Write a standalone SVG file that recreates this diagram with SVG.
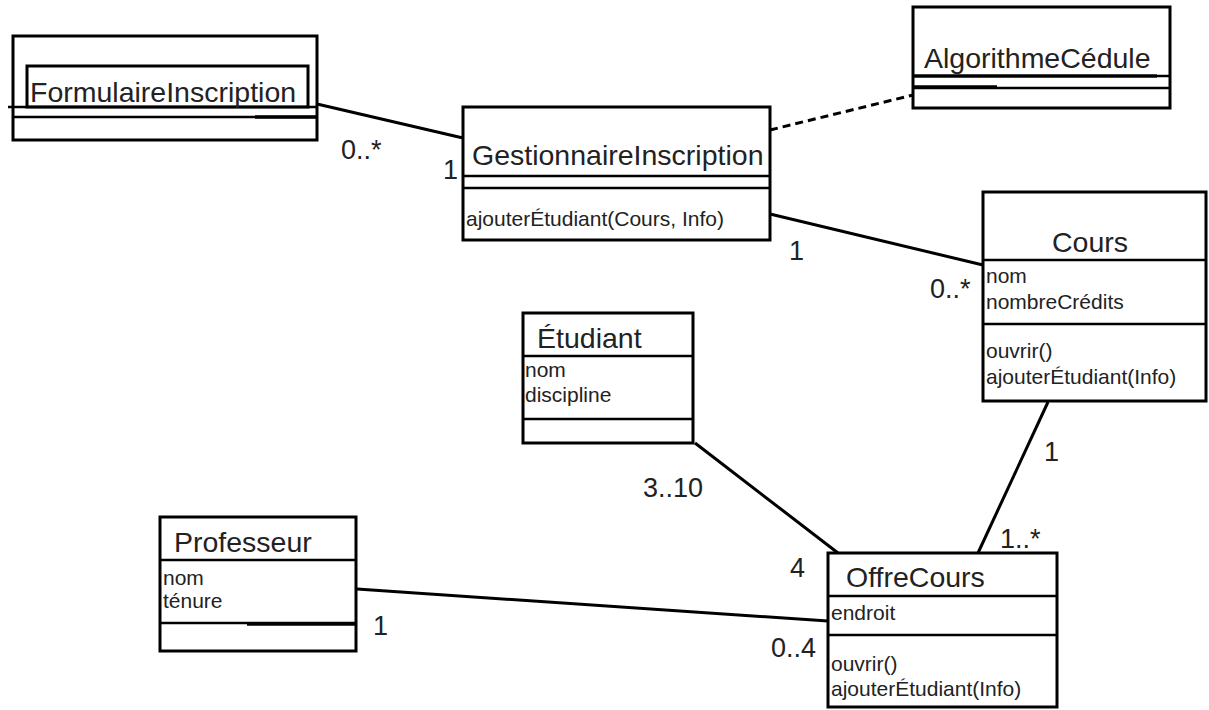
<svg xmlns="http://www.w3.org/2000/svg" width="1209" height="710" viewBox="0 0 1209 710">
<style>
.box{fill:#fff;stroke:#000;stroke-width:3}
.ln{stroke:#000;stroke-width:2.5;fill:none}
.thk{stroke:#000;stroke-width:3.5;fill:none}
.conn{stroke:#000;stroke-width:3;fill:none}
.dash{stroke:#000;stroke-width:3;fill:none;stroke-dasharray:8 5}
.t{font-family:"Liberation Sans",Arial,sans-serif;font-size:28.5px;fill:#222}
.s{font-family:"Liberation Sans",Arial,sans-serif;font-size:21px;fill:#222}
.m{font-family:"Liberation Sans",Arial,sans-serif;font-size:27px;fill:#222}
</style>
<rect width="1209" height="710" fill="#fff"/>
<g id="connectors">
<line class="conn" x1="317" y1="104" x2="463" y2="138"/>
<line class="dash" x1="770" y1="130" x2="913" y2="95"/>
<line class="conn" x1="770" y1="214" x2="983" y2="265"/>
<line class="conn" x1="695" y1="443" x2="838" y2="553"/>
<line class="conn" x1="1048" y1="402" x2="978" y2="553"/>
<line class="conn" x1="357" y1="589" x2="828" y2="621"/>
<text class="m" x="341" y="159">0..*</text>
<text class="m" x="443" y="179">1</text>
<text class="m" x="789" y="260">1</text>
<text class="m" x="930" y="298">0..*</text>
<text class="m" x="643" y="497">3..10</text>
<text class="m" x="790" y="577">4</text>
<text class="m" x="1044" y="461">1</text>
<text class="m" x="1000" y="548">1..*</text>
<text class="m" x="373" y="635">1</text>
<text class="m" x="771" y="657">0..4</text>
</g>
<g id="FormulaireInscription">
<rect class="box" x="13" y="36" width="304" height="104"/>
<rect class="box" x="27" y="66" width="281" height="41"/>
<line class="ln" x1="8" y1="107" x2="317" y2="107"/>
<line class="ln" x1="13" y1="117" x2="317" y2="117"/>
<line class="thk" x1="255" y1="117" x2="317" y2="117"/>
<text class="t" x="30" y="102">FormulaireInscription</text>
</g>
<g id="GestionnaireInscription">
<rect class="box" x="463" y="107" width="307" height="133"/>
<line class="ln" x1="463" y1="176" x2="770" y2="176"/>
<line class="ln" x1="463" y1="188" x2="770" y2="188"/>
<text class="t" x="472" y="165">GestionnaireInscription</text>
<text class="s" x="466" y="226">ajouterÉtudiant(Cours, Info)</text>
</g>
<g id="AlgorithmeCedule">
<rect class="box" x="913" y="7" width="257" height="101"/>
<line class="thk" x1="913" y1="76" x2="1157" y2="76"/>
<line class="ln" x1="1157" y1="76" x2="1170" y2="76"/>
<line class="ln" x1="913" y1="88" x2="1170" y2="88"/>
<line class="thk" x1="913" y1="87" x2="997" y2="87"/>
<text class="t" x="924" y="68">AlgorithmeCédule</text>
</g>
<g id="Cours">
<rect class="box" x="983" y="192" width="223" height="209"/>
<line class="ln" x1="983" y1="260" x2="1206" y2="260"/>
<line class="ln" x1="983" y1="324" x2="1206" y2="324"/>
<text class="t" x="1052" y="252">Cours</text>
<text class="s" x="986" y="283">nom</text>
<text class="s" x="986" y="309">nombreCrédits</text>
<text class="s" x="986" y="358">ouvrir()</text>
<text class="s" x="986" y="384">ajouterÉtudiant(Info)</text>
</g>
<g id="Etudiant">
<rect class="box" x="523" y="313" width="170" height="130"/>
<line class="ln" x1="523" y1="356" x2="693" y2="356"/>
<line class="ln" x1="523" y1="419" x2="693" y2="419"/>
<text class="t" x="537" y="348">Étudiant</text>
<text class="s" x="525" y="377">nom</text>
<text class="s" x="525" y="402">discipline</text>
</g>
<g id="Professeur">
<rect class="box" x="160" y="517" width="196" height="134"/>
<line class="ln" x1="160" y1="560" x2="356" y2="560"/>
<line class="ln" x1="160" y1="623" x2="356" y2="623"/>
<line class="thk" x1="247" y1="624" x2="356" y2="624"/>
<text class="t" x="174" y="552">Professeur</text>
<text class="s" x="163" y="585">nom</text>
<text class="s" x="163" y="608">ténure</text>
</g>
<g id="OffreCours">
<rect class="box" x="828" y="553" width="229" height="154"/>
<line class="ln" x1="828" y1="596" x2="1057" y2="596"/>
<line class="ln" x1="828" y1="635" x2="1057" y2="635"/>
<text class="t" x="846" y="587">OffreCours</text>
<text class="s" x="831" y="620">endroit</text>
<text class="s" x="831" y="671">ouvrir()</text>
<text class="s" x="831" y="696">ajouterÉtudiant(Info)</text>
</g>
</svg>
